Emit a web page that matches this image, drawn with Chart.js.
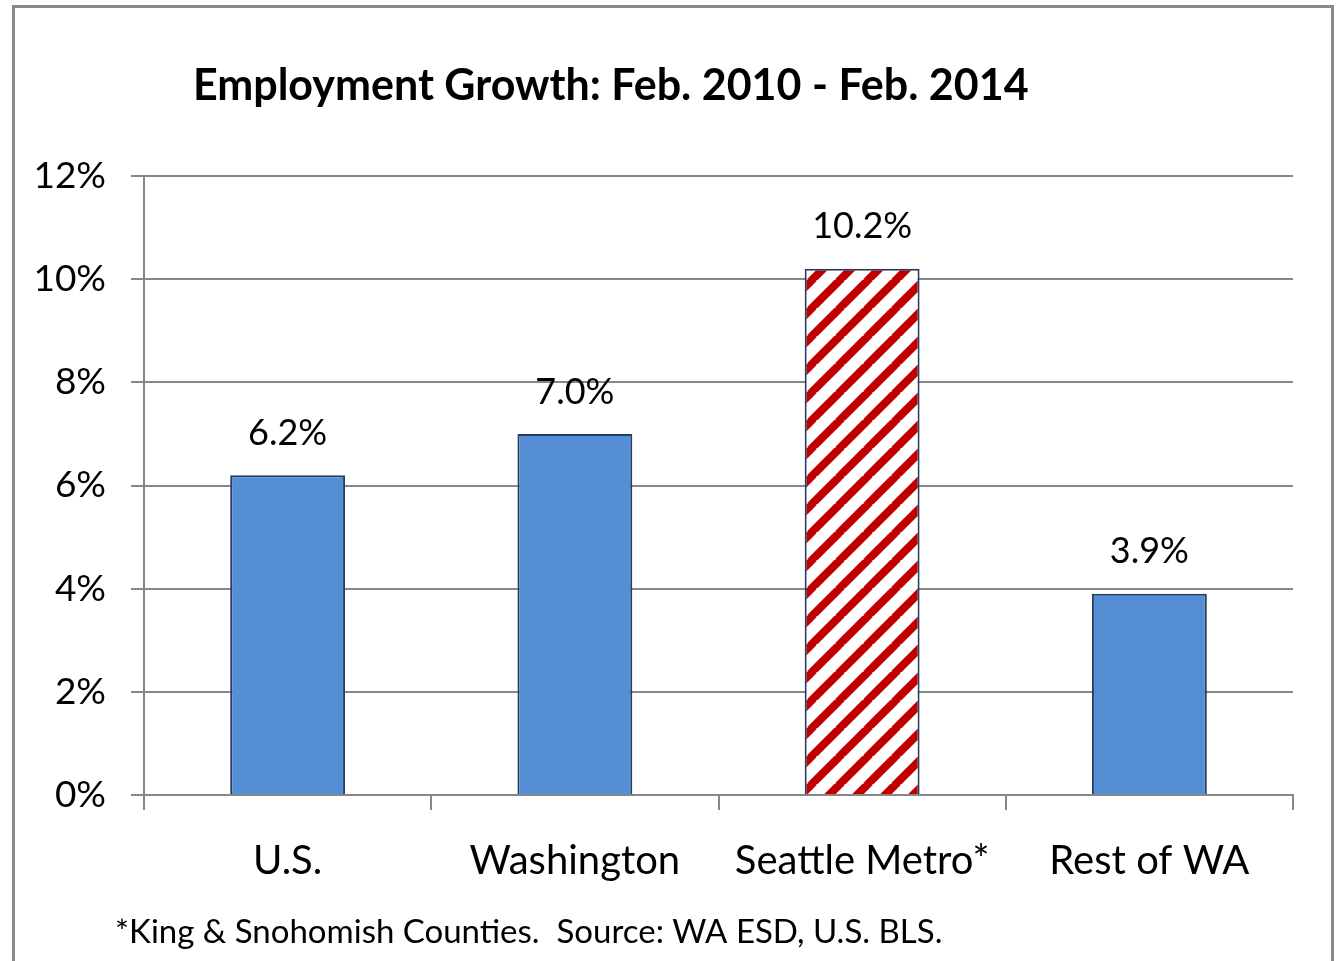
<!DOCTYPE html>
<html>
<head>
<meta charset="utf-8">
<script src="https://cdn.jsdelivr.net/npm/chart.js@4"></script>
<style>
  body { margin: 0; background: #fff; }
  #frame { position: absolute; left: 12px; top: 5px; width: 1316px; height: 1000px;
           border: 3px solid #8a8a8a; border-bottom: none; }
  #wrap { position: absolute; left: 0; top: 0; width: 1337px; height: 961px; }
</style>
</head>
<body>
<div id="frame"></div>
<div id="wrap"><canvas id="graph"></canvas></div>
<script>
const regions = ['U.S.', 'Washington', 'Seattle Metro*', 'Rest of WA'];
const growth = [6.2, 7.0, 10.2, 3.9];
const yTicks = [0, 2, 4, 6, 8, 10, 12];
const titleText = 'Employment Growth: Feb. 2010 - Feb. 2014';
const noteText = '*King & Snohomish Counties.  Source: WA ESD, U.S. BLS.';

const FONT = 'Lato, "Open Sans", sans-serif';

// red diagonal hatch for the Seattle bar
function hatch() {
    const size = 28;
    const c = document.createElement('canvas');
    c.width = size; c.height = size;
    const g = c.getContext('2d');
    g.fillStyle = '#fff';
    g.fillRect(0, 0, size, size);
    g.strokeStyle = '#c00000';
    g.lineWidth = 8;
    for (let k = -1; k <= 1; k++) {
        g.beginPath();
        g.moveTo(k * size - 2, size + 2);
        g.lineTo(k * size + size + 2, -2);
        g.stroke();
    }
    return g.createPattern(c, 'repeat');
}
const stripes = hatch();

const fills = regions.map((r, i) => i === 2 ? stripes : '#558ed5');

const textPlugin = {
    id: 'texts',
    afterDraw(chart) {
        const ctx = chart.ctx;
        ctx.save();
        ctx.fillStyle = '#000';
        ctx.textAlign = 'left';
        ctx.textBaseline = 'middle';
        ctx.font = 'bold 43px ' + FONT;
        ctx.fillText(titleText, 193, 86);
        ctx.font = '33px ' + FONT;
        ctx.fillText(noteText, 115, 932);
        // value labels above bars
        ctx.textAlign = 'center';
        ctx.textBaseline = 'bottom';
        ctx.font = '36px ' + FONT;
        chart.getDatasetMeta(0).data.forEach((bar, i) => {
            ctx.fillText(growth[i].toFixed(1) + '%', bar.x, bar.y - 24);
        });
        ctx.restore();
    }
};

const config = {
    type: 'bar',
    data: {
        labels: regions,
        datasets: [{
            data: growth,
            backgroundColor: fills,
            borderColor: '#233d5e',
            borderWidth: 2,
            barPercentage: 0.4,
            categoryPercentage: 1
        }]
    },
    options: {
        responsive: true,
        maintainAspectRatio: false,
        animation: false,
        layout: { padding: { top: 176, right: 44, bottom: 49, left: 0 } },
        plugins: {
            legend: { display: false },
            tooltip: { enabled: false }
        },
        scales: {
            x: {
                grid: { drawOnChartArea: false, drawTicks: true, tickLength: 15,
                        color: '#878787', lineWidth: 2 },
                border: { color: '#878787', width: 2 },
                ticks: { color: '#000', font: { family: FONT, size: 40 }, padding: 27 }
            },
            y: {
                min: 0, max: 12,
                afterBuildTicks: (s) => { s.ticks = yTicks.map(v => ({ value: v })); },
                afterFit: (s) => { s.width = 144; },
                grid: { color: '#878787', lineWidth: 2, tickLength: 13 },
                border: { color: '#878787', width: 2 },
                ticks: { color: '#000', font: { family: FONT, size: 37 }, padding: 25,
                         callback: (v) => v + '%' }
            }
        }
    },
    plugins: [textPlugin]
};

new Chart(document.querySelector('#graph'), config);
</script>
</body>
</html>
